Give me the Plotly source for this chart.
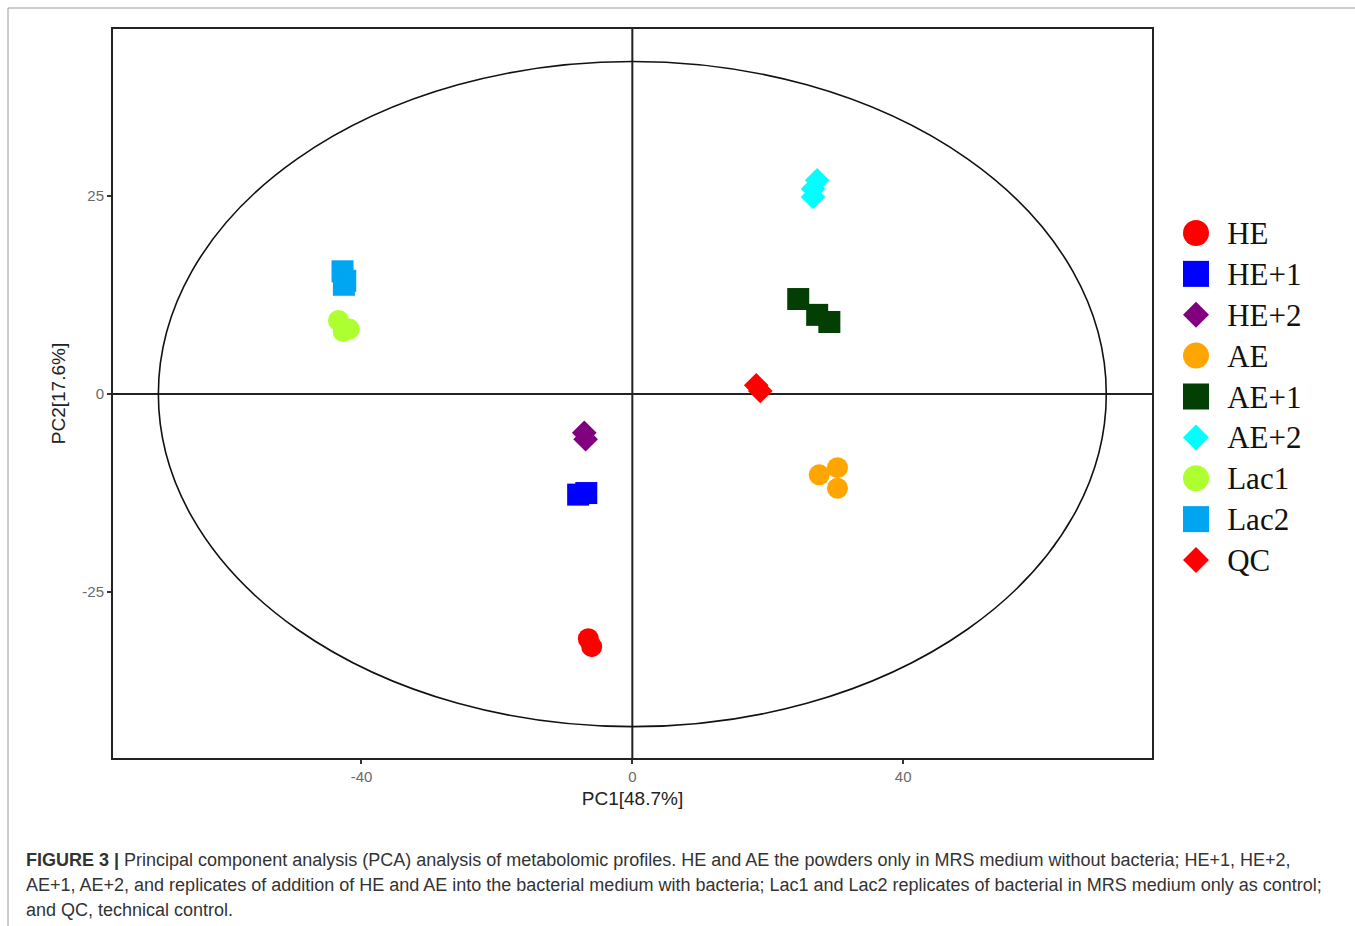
import plotly.graph_objects as go

W, H = 1355, 926

# ---- data (PC1, PC2 scores per group) ----
groups = ["HE", "HE+1", "HE+2", "AE", "AE+1", "AE+2", "Lac1", "Lac2", "QC"]
pc1_HE = [-6.5, -6.0]
pc2_HE = [-30.9, -31.9]
pc1_HE1 = [-8.0, -6.8]
pc2_HE1 = [-12.7, -12.5]
pc1_HE2 = [-7.1, -6.9]
pc2_HE2 = [-4.9, -5.7]
pc1_AE = [27.6, 30.3, 30.3]
pc2_AE = [-10.2, -9.3, -11.9]
pc1_AE1 = [24.5, 27.3, 29.1]
pc2_AE1 = [12.0, 10.0, 9.1]
pc1_AE2 = [27.3, 26.7, 26.7]
pc2_AE2 = [27.0, 25.9, 24.9]
pc1_Lac1 = [-43.4, -41.8, -42.7]
pc2_Lac1 = [9.3, 8.2, 7.9]
pc1_Lac2 = [-42.8, -42.4, -42.6]
pc2_Lac2 = [15.5, 14.3, 13.8]
pc1_QC = [18.3, 18.9]
pc2_QC = [1.1, 0.4]

xs = [pc1_HE, pc1_HE1, pc1_HE2, pc1_AE, pc1_AE1, pc1_AE2, pc1_Lac1, pc1_Lac2, pc1_QC]
ys = [pc2_HE, pc2_HE1, pc2_HE2, pc2_AE, pc2_AE1, pc2_AE2, pc2_Lac1, pc2_Lac2, pc2_QC]

colors = ["#FF0000", "#0000FF", "#800080", "#FFA500", "#033F03",
          "#00FFFF", "#ADFF2F", "#00A5F2", "#FF0000"]
symbols = ["circle", "square", "diamond", "circle", "square",
           "diamond", "circle", "square", "diamond"]

x_ticks = [-40, 0, 40]
y_ticks = [-25, 0, 25]
ellipse_a, ellipse_b = 70, 42

caption_lines = [
    "<b>FIGURE 3 |</b> Principal component analysis (PCA) analysis of metabolomic profiles. HE and AE the powders only in MRS medium without bacteria; HE+1, HE+2,",
    "AE+1, AE+2, and replicates of addition of HE and AE into the bacterial medium with bacteria; Lac1 and Lac2 replicates of bacterial in MRS medium only as control;",
    "and QC, technical control.",
]

# ---- layout helpers (pixel -> paper) ----
def px(x):
    return x / W

def py(y):
    return 1 - y / H

size_map = {"circle": 21, "square": 22, "diamond": 19}
leg_size = {"circle": 26, "square": 26, "diamond": 20}

fig = go.Figure()

for g, x, y, c, s in zip(groups, xs, ys, colors, symbols):
    fig.add_trace(go.Scatter(
        x=x, y=y, mode="markers", name=g, showlegend=False,
        marker=dict(color=c, symbol=s, size=size_map[s], line=dict(width=0)),
        xaxis="x", yaxis="y"))

# custom legend on its own axes
leg_idx = list(range(len(groups)))
for i, g, c, s in zip(leg_idx, groups, colors, symbols):
    fig.add_trace(go.Scatter(
        x=[0], y=[i], mode="markers", showlegend=False, hoverinfo="skip",
        marker=dict(color=c, symbol=s, size=leg_size[s], line=dict(width=0)),
        xaxis="x2", yaxis="y2"))
fig.add_trace(go.Scatter(
    x=[1.2] * len(groups), y=[i + 0.08 for i in leg_idx], mode="text", text=groups,
    textposition="middle right", showlegend=False, hoverinfo="skip",
    textfont=dict(family="Liberation Serif", size=31, color="#111111"),
    xaxis="x2", yaxis="y2"))

# plot area: x 113..1152 px, y 29..758 px
fig.update_layout(
    width=W, height=H,
    margin=dict(l=0, r=0, t=0, b=0),
    paper_bgcolor="white", plot_bgcolor="white",
    xaxis=dict(
        domain=[px(113), px(1152)], range=[-76.7, 76.75],
        tickvals=x_ticks, ticktext=[str(v) for v in x_ticks],
        showgrid=False, zeroline=False,
        showline=True, mirror=True, linecolor="#222222", linewidth=2,
        ticks="outside", ticklen=4, tickwidth=1.5, tickcolor="#333333",
        tickfont=dict(family="Liberation Sans", size=15, color="#6a6a6a"),
        title=dict(text="PC1[48.7%]", standoff=8,
                   font=dict(family="Liberation Sans", size=19, color="#222222")),
        anchor="y"),
    yaxis=dict(
        domain=[py(758), py(29)], range=[-45.96, 46.1],
        tickvals=y_ticks, ticktext=[str(v) for v in y_ticks],
        showgrid=False, zeroline=False,
        showline=True, mirror=True, linecolor="#222222", linewidth=2,
        ticks="outside", ticklen=4, tickwidth=1.5, tickcolor="#333333",
        tickfont=dict(family="Liberation Sans", size=15, color="#6a6a6a"),
        title=dict(text="PC2[17.6%]", standoff=12,
                   font=dict(family="Liberation Sans", size=19, color="#222222")),
        anchor="x"),
    xaxis2=dict(domain=[px(1170), px(1350)], range=[-1, 5.923],
                visible=False, anchor="y2"),
    yaxis2=dict(domain=[py(580), py(213)], range=[8.489, -0.489],
                visible=False, anchor="x2"),
)

# ellipse and cross lines
fig.add_shape(type="circle", xref="x", yref="y",
              x0=-ellipse_a, x1=ellipse_a, y0=-ellipse_b, y1=ellipse_b,
              line=dict(color="#111111", width=1.6), layer="below")
fig.add_shape(type="line", xref="x", yref="paper",
              x0=0, x1=0, y0=py(758), y1=py(29),
              line=dict(color="#222222", width=2), layer="below")
fig.add_shape(type="line", xref="paper", yref="y",
              x0=px(113), x1=px(1152), y0=0, y1=0,
              line=dict(color="#222222", width=2), layer="below")

# outer figure frame
fig.add_shape(type="rect", xref="paper", yref="paper",
              x0=px(8), x1=1.01, y0=-0.01, y1=py(8),
              line=dict(color="#9a9a9a", width=1))

# caption
for i, line in enumerate(caption_lines):
    fig.add_annotation(
        x=px(24), y=py(860 + 25 * i), xref="paper", yref="paper",
        xanchor="left", yanchor="middle", showarrow=False, align="left",
        text=line,
        font=dict(family="Liberation Sans", size=18, color="#333333"))

fig.write_html("out.html", config={"displayModeBar": False},
               post_script="document.body.style.margin='0px';document.body.style.overflow='hidden';")
